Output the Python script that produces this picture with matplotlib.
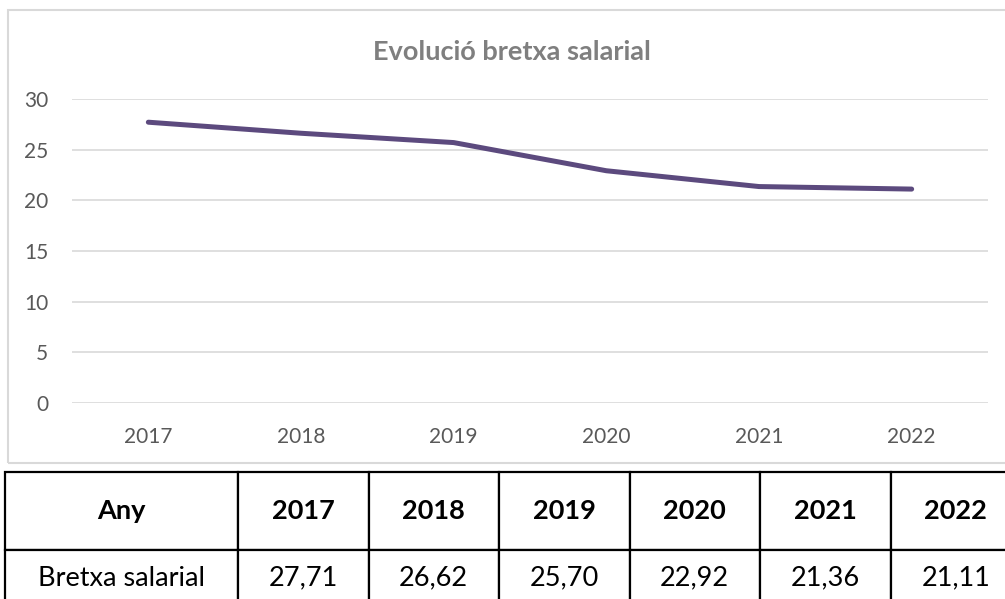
import matplotlib
matplotlib.use("Agg")
import matplotlib.pyplot as plt
from matplotlib.patches import Rectangle

# ---------- data ----------
years = ["2017", "2018", "2019", "2020", "2021", "2022"]
gap = [27.71, 26.62, 25.70, 22.92, 21.36, 21.11]
y_ticks = [0, 5, 10, 15, 20, 25, 30]
row_labels = ["Any", "Bretxa salarial"]

plt.rcParams["font.family"] = ["Lato", "DejaVu Sans"]

W, H = 1005, 599
fig = plt.figure(figsize=(W / 100, H / 100), dpi=100)


def fx(px):
    return px / W


def fy(py):
    return 1 - py / H


# chart frame
fig.patches.append(Rectangle((fx(8), fy(463)), fx(1010 - 8), (463 - 10) / H,
                             transform=fig.transFigure, fill=False,
                             edgecolor="#d9d9d9", lw=1.5))

# ---------- line chart ----------
ax = fig.add_axes([fx(72), fy(403), fx(988 - 72), (403 - 99) / H])
x = list(range(len(years)))
ax.plot(x, gap, color="#5c4a7e", lw=3.6, solid_capstyle="round")
ax.set_xlim(-0.5, len(years) - 0.5)
ax.set_ylim(0, 30)
ax.set_yticks(y_ticks)
ax.set_xticks(x)
ax.set_xticklabels(years)
ax.grid(axis="y", color="#d9d9d9", lw=1.2)
ax.set_axisbelow(True)
for s in ax.spines.values():
    s.set_visible(False)
ax.tick_params(axis="both", length=0, labelsize=15, labelcolor="#595959")
ax.tick_params(axis="y", pad=17)
ax.tick_params(axis="x", pad=17)

fig.text(fx(512), fy(52), "Evolució bretxa salarial", ha="center", va="center",
         fontsize=19.5, fontweight="bold", color="#7f7f7f")

# ---------- data table ----------
top, mid, bot = 472, 550, 606
tax = fig.add_axes([fx(5), fy(bot), fx(1021 - 5), (bot - top) / H])
tax.axis("off")
col_w = [233] + [130.5] * len(years)
tot = sum(col_w)
cells = [[row_labels[0]] + years,
         [row_labels[1]] + [f"{v:.2f}".replace(".", ",") for v in gap]]
tbl = tax.table(cellText=cells, colWidths=[c / tot for c in col_w],
                bbox=[0, 0, 1, 1], cellLoc="center")
tbl.auto_set_font_size(False)
row_h = [(mid - top) / (bot - top), (bot - mid) / (bot - top)]
for (r, c), cell in tbl.get_celld().items():
    cell.set_height(row_h[r])
    cell.set_edgecolor("black")
    cell.set_linewidth(1.6)
    cell.set_clip_on(False)
    t = cell.get_text()
    t.set_fontsize(19.5)
    t.set_color("black")
    if r == 0:
        t.set_fontweight("bold")

fig.savefig("out.png", dpi=100, facecolor="white")
